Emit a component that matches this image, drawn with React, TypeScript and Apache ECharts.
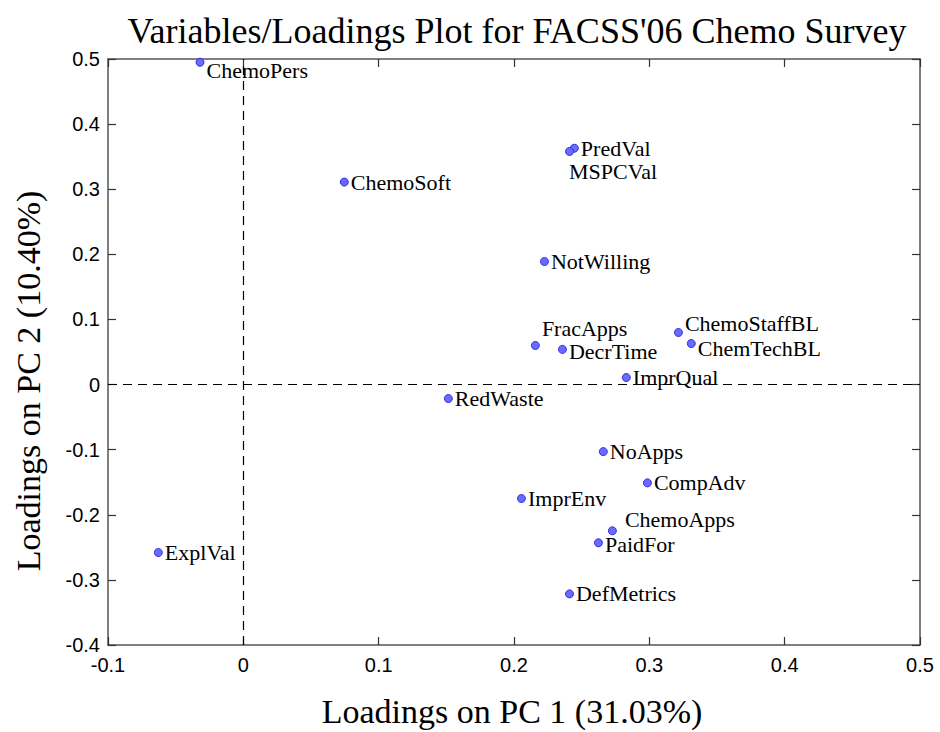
import React, { useEffect, useRef } from "react";
import * as echarts from "echarts";

const variableNames = [
  "ChemoPers", "ChemoSoft", "PredVal", "MSPCVal", "NotWilling", "FracApps",
  "DecrTime", "ChemoStaffBL", "ChemTechBL", "ImprQual", "RedWaste", "NoApps",
  "CompAdv", "ImprEnv", "ChemoApps", "PaidFor", "ExplVal", "DefMetrics",
];
const pc1Loadings = [
  -0.032, 0.0746, 0.2446, 0.241, 0.2225, 0.2158,
  0.2358, 0.3215, 0.331, 0.283, 0.1515, 0.266,
  0.2986, 0.2055, 0.2727, 0.2624, -0.0628, 0.241,
];
const pc2Loadings = [
  0.495, 0.311, 0.363, 0.358, 0.189, 0.060,
  0.054, 0.080, 0.063, 0.0108, -0.0215, -0.103,
  -0.151, -0.175, -0.2246, -0.243, -0.258, -0.3215,
];
// label nudges (in px) for crowded labels
const labelOffsets: Record<string, [number, number]> = {
  ChemoPers: [0, 8],
  MSPCVal: [-7, 20],
  FracApps: [0, -17],
  DecrTime: [0, 2],
  ChemoStaffBL: [0, -9],
  ChemTechBL: [0, 5],
  ChemoApps: [6, -11],
  PaidFor: [0, 2],
};

const titleText = "Variables/Loadings Plot for FACSS'06 Chemo Survey";
const xName = "Loadings on PC 1 (31.03%)";
const yName = "Loadings on PC 2 (10.40%)";

const SERIF = "'Liberation Serif', 'Times New Roman', serif";
const SANS = "'Liberation Sans', Arial, sans-serif";

export default function App() {
  const ref = useRef<HTMLDivElement>(null);
  useEffect(() => {
    document.body.style.margin = "0";
    if (!ref.current) return;
    const chart = echarts.init(ref.current, null, { renderer: "svg" });
    const data = variableNames.map((n, i) => {
      const off = labelOffsets[n];
      const item: any = { name: n, value: [pc1Loadings[i], pc2Loadings[i]] };
      if (off) item.label = { offset: off };
      return item;
    });
    const axisLineStyle = { color: "#555", width: 1.5 };
    const tickStyle = { show: true, inside: true, length: 8, lineStyle: { color: "#333", width: 1.2 } };
    const fmt = (v: number) => String(Math.round(v * 10) / 10);
    chart.setOption({
      animation: false,
      backgroundColor: "#fff",
      title: {
        text: titleText,
        left: 512,
        textAlign: "center",
        top: 8,
        textStyle: { fontFamily: SERIF, fontSize: 36, fontWeight: "normal", color: "#000" },
      },
      graphic: [
        {
          type: "text",
          x: 512,
          y: 711,
          style: {
            text: xName,
            fontFamily: SERIF,
            fontSize: 34,
            fill: "#000",
            align: "center",
            verticalAlign: "middle",
          },
        },
        {
          type: "text",
          x: 28,
          y: 381,
          rotation: Math.PI / 2,
          style: {
            text: yName,
            fontFamily: SERIF,
            fontSize: 34,
            fill: "#000",
            align: "center",
            verticalAlign: "middle",
          },
        },
      ],
      grid: { left: 108, top: 59, right: 20, bottom: 87, containLabel: false },
      xAxis: [
        {
          type: "value",
          min: -0.1,
          max: 0.5,
          interval: 0.1,
          position: "bottom",
          axisLine: { show: true, onZero: false, lineStyle: axisLineStyle },
          axisTick: tickStyle,
          axisLabel: { fontFamily: SANS, fontSize: 20, color: "#000", margin: 10, formatter: fmt },
          splitLine: { show: false },
        },
        {
          type: "value",
          min: -0.1,
          max: 0.5,
          interval: 0.1,
          position: "top",
          axisLine: { show: true, onZero: false, lineStyle: axisLineStyle },
          axisTick: tickStyle,
          axisLabel: { show: false },
          splitLine: { show: false },
        },
      ],
      yAxis: [
        {
          type: "value",
          min: -0.4,
          max: 0.5,
          interval: 0.1,
          position: "left",
          axisLine: { show: true, onZero: false, lineStyle: axisLineStyle },
          axisTick: tickStyle,
          axisLabel: { fontFamily: SANS, fontSize: 20, color: "#000", margin: 8, formatter: fmt },
          splitLine: { show: false },
        },
        {
          type: "value",
          min: -0.4,
          max: 0.5,
          interval: 0.1,
          position: "right",
          axisLine: { show: true, onZero: false, lineStyle: axisLineStyle },
          axisTick: tickStyle,
          axisLabel: { show: false },
          splitLine: { show: false },
        },
      ],
      series: [
        {
          type: "scatter",
          xAxisIndex: 0,
          yAxisIndex: 0,
          symbol: "circle",
          symbolSize: 8,
          itemStyle: { color: "#6a6aff", borderColor: "#2f2fe0", borderWidth: 1, opacity: 1 },
          label: {
            show: true,
            position: "right",
            distance: 2,
            formatter: "{b}",
            fontFamily: SERIF,
            fontSize: 22,
            color: "#000",
          },
          emphasis: { disabled: true },
          markLine: {
            silent: true,
            symbol: "none",
            label: { show: false },
            lineStyle: { color: "#000", type: [9, 6], width: 1.2 },
            data: [{ xAxis: 0 }, { yAxis: 0 }],
          },
          data,
          z: 3,
        },
      ],
    });
    return () => chart.dispose();
  }, []);
  return <div ref={ref} style={{ width: 940, height: 732 }} />;
}
